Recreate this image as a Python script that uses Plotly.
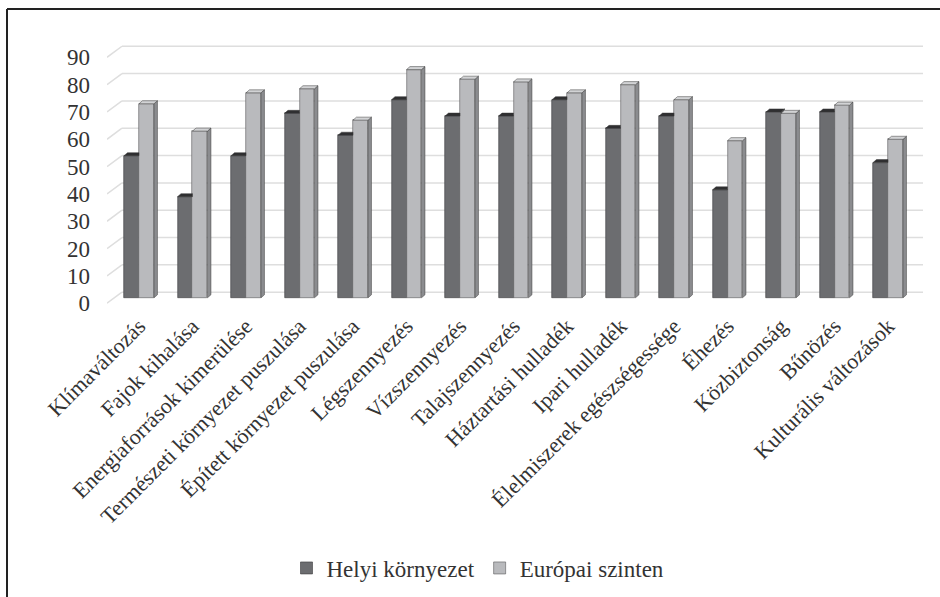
import plotly.graph_objects as go

# Survey categories and the two rated series (scale 0-90)
categories = [
    "Klímaváltozás", "Fajok kihalása", "Energiaforrások kimerülése",
    "Természeti környezet puszulása", "Épített környezet puszulása",
    "Légszennyezés", "Vízszennyezés", "Talajszennyezés", "Háztartási hulladék",
    "Ipari hulladék", "Élelmiszerek egészségessége", "Éhezés", "Közbiztonság",
    "Bűnözés", "Kulturális változások",
]
helyi = [52, 37, 52, 67.5, 59.5, 72.5, 66.5, 66.5, 72.5, 62, 66.5, 39.5, 68, 68, 49.5]
europai = [71, 61, 75, 76.5, 65, 83.5, 80, 79, 75, 78, 72.5, 57.5, 67.5, 70.5, 58]
y_ticks = list(range(0, 100, 10))
series_names = ["Helyi környezet", "Európai szinten"]

FONT = "Liberation Serif"
W = 0.28          # front face width of one bar (category units)
DX, DY = 0.065, 1.1   # bar depth projection
GX, GY_BACK, GY_FRONT = 0.28, 2.05, -2.0  # floor depth for the grid

DARK = dict(front="#6c6d70", side="#454547", top="#2f2f31")
LIGHT = dict(front="#b9babd", side="#8b8c8f", top="#d2d3d5")

fig = go.Figure()

# front faces as real bars
fig.add_trace(go.Bar(x=list(range(len(categories))), y=helyi, name=series_names[0],
                     offset=-W, width=W, marker=dict(color=DARK["front"], line=dict(color="#3c3c3e", width=0.6))))
fig.add_trace(go.Bar(x=list(range(len(categories))), y=europai, name=series_names[1],
                     offset=0, width=W, marker=dict(color=LIGHT["front"], line=dict(color="#5a5a5c", width=0.6))))


def poly_trace(xs, ys, color):
    return go.Scatter(x=xs, y=ys, mode="lines", fill="toself", fillcolor=color,
                      line=dict(color="#3a3a3a", width=0.5), hoverinfo="skip", showlegend=False)


# dark bar side and top faces (only the parts not hidden by the light bar)
dsx, dsy, dtx, dty = [], [], [], []
for i, (dv, lv) in enumerate(zip(helyi, europai)):
    if dv > lv:
        dsx += [i, i, i + DX, i + DX, i, None]
        dsy += [lv, dv, dv + DY, lv + DY, lv, None]
        dtx += [i - W, i, i + DX, i - W + DX, i - W, None]
        dty += [dv, dv, dv + DY, dv + DY, dv, None]
    else:
        dtx += [i - W, i, i, i - W + DX, i - W, None]
        dty += [dv, dv, dv + DY, dv + DY, dv, None]
fig.add_trace(poly_trace(dsx, dsy, DARK["side"]))
fig.add_trace(poly_trace(dtx, dty, DARK["top"]))

# light bar side and top faces
lsx, lsy, ltx, lty = [], [], [], []
for i, lv in enumerate(europai):
    lsx += [i + W, i + W, i + W + DX, i + W + DX, i + W, None]
    lsy += [0, lv, lv + DY, DY, 0, None]
    ltx += [i, i + W, i + W + DX, i + DX, i, None]
    lty += [lv, lv, lv + DY, lv + DY, lv, None]
fig.add_trace(poly_trace(lsx, lsy, LIGHT["side"]))
fig.add_trace(poly_trace(ltx, lty, LIGHT["top"]))

# back-wall gridlines with the slanted floor edge on the left
x_left, x_right = -0.598, 14.654
shapes = []
for v in y_ticks:
    shapes.append(dict(type="line", xref="x", yref="y", layer="below",
                       x0=x_left + GX, x1=x_right, y0=v + GY_BACK, y1=v + GY_BACK,
                       line=dict(color="#dedede", width=1.5)))
    shapes.append(dict(type="line", xref="x", yref="y", layer="below",
                       x0=x_left, x1=x_left + GX, y0=v + GY_FRONT, y1=v + GY_BACK,
                       line=dict(color="#dedede", width=1.5)))

# outer frame (top and left edges)
l, t, pw, ph = 107, 45, 816, 261
def px_x(p):
    return (p - l) / pw
def px_y(p):
    return 1 - (p - t) / ph
shapes.append(dict(type="line", xref="paper", yref="paper", x0=px_x(7), x1=px_x(940),
                   y0=px_y(9), y1=px_y(9), line=dict(color="#222222", width=2)))
shapes.append(dict(type="line", xref="paper", yref="paper", x0=px_x(7), x1=px_x(7),
                   y0=px_y(9), y1=px_y(600), line=dict(color="#222222", width=2)))

fig.update_layout(
    width=940, height=597,
    margin=dict(l=l, r=940 - l - pw, t=t, b=597 - t - ph, autoexpand=False),
    paper_bgcolor="white", plot_bgcolor="white",
    barmode="overlay", bargap=0,
    font=dict(family=FONT, color="#333333"),
    shapes=shapes,
    xaxis=dict(range=[x_left, x_right], tickmode="array",
               tickvals=list(range(len(categories))), ticktext=categories,
               tickangle=-45, tickfont=dict(size=22, family=FONT, color="#333333"),
               showgrid=False, zeroline=False, showline=False, ticks="",
               ticklabelstandoff=2, automargin=False),
    yaxis=dict(range=[-3, 92.5], showticklabels=False, showgrid=False,
               zeroline=False, showline=False, ticks="", automargin=False),
    yaxis2=dict(range=[-1, 94.5], overlaying="y", side="left", tickmode="array",
                tickvals=y_ticks, ticktext=[str(v) for v in y_ticks],
                tickfont=dict(size=23, family=FONT, color="#333333"),
                showgrid=False, zeroline=False, showline=False, ticks="",
                ticklabelstandoff=16, automargin=False),
    legend=dict(orientation="h", xref="container", yref="container",
                x=478 / 940, xanchor="center", y=1 - 568 / 597, yanchor="middle",
                font=dict(size=23, family=FONT, color="#333333"),
                itemwidth=30, traceorder="normal"),
    showlegend=True,
)

# invisible anchor so the tick-label axis is rendered
fig.add_trace(go.Scatter(x=[None], y=[None], yaxis="y2", showlegend=False, hoverinfo="skip"))

fig.write_html("out.html")
